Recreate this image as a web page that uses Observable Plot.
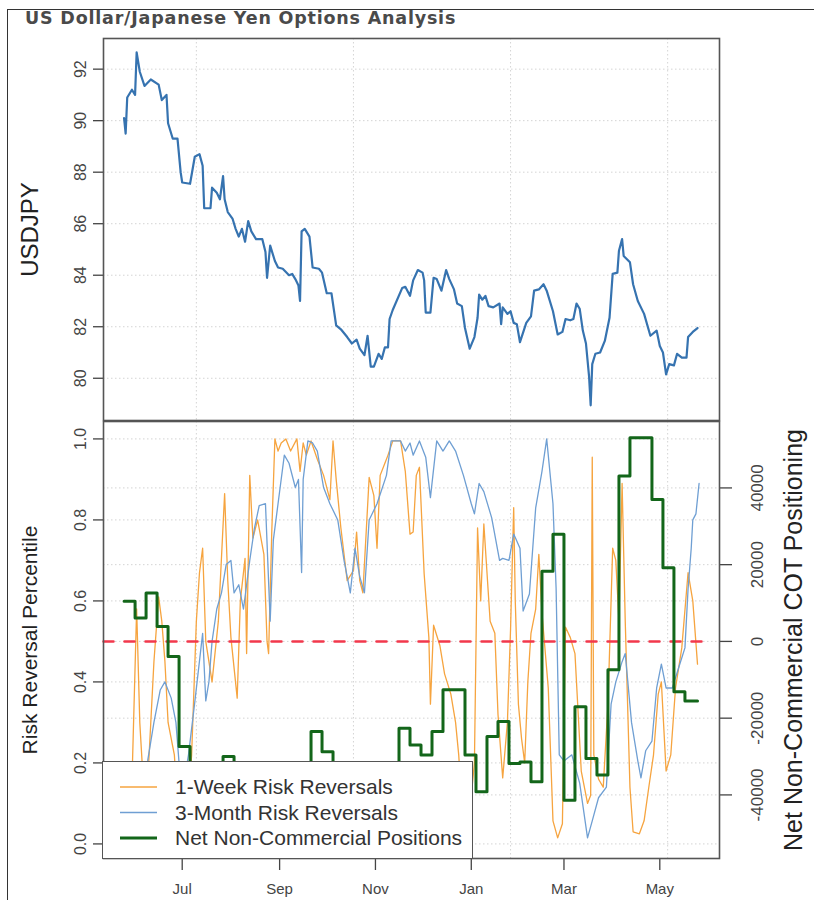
<!DOCTYPE html>
<html>
<head>
<meta charset="utf-8">
<script src="https://cdn.jsdelivr.net/npm/d3@7"></script>
<script src="https://cdn.jsdelivr.net/npm/@observablehq/plot@0.6"></script>
<style>
  html, body { margin: 0; padding: 0; background: #fff; }
  #wrap { position: relative; width: 814px; height: 900px; overflow: hidden; font-family: "Liberation Sans", Arial, sans-serif; }
  #border { position: absolute; left: 7px; top: 9px; width: 900px; height: 1000px; border-left: 1.6px solid #333; border-top: 1.6px solid #333; }
  #title { position: absolute; left: 25px; top: 10px; font: bold 17.5px/17px "DejaVu Sans", Verdana, sans-serif; letter-spacing: 0.8px; color: #4a4a4a; white-space: nowrap; }
  .panel { position: absolute; left: 0; }
  #legend { position: absolute; left: 102px; top: 761px; width: 371px; height: 98px; background: #fff; border: 1.5px solid #555; box-sizing: border-box; }
</style>
</head>
<body>
<div id="wrap">
  <div id="border"></div>
  <div id="title"></div>
  <div id="topPanel" class="panel" style="top:0px"></div>
  <div id="bottomPanel" class="panel" style="top:400px"></div>
  <div id="legend"></div>
</div>
<script>
// ---------------- DATA ----------------
const chartTitle = "US Dollar/Japanese Yen Options Analysis";
const baseDay = "2010-07-01"; // day offsets below are counted from this date

// USD/JPY spot (day offset, level)
const usdDays = [-37,-36,-35,-32,-30,-29,-27,-24,-20,-15,-13,-10,-9,-6,-3,-1,0,5,8,11,13,14,18,19,22,24,26,27,29,32,34,36,38,40,42,44,47,51,53,54,56,59,61,64,68,70,72,74,75,76,78,81,83,87,89,92,95,98,101,105,108,111,113,116,118,120,122,125,127,129,131,132,134,140,142,145,147,150,153,154,155,158,160,162,165,168,170,173,175,178,180,183,186,188,189,191,193,195,198,202,203,204,207,209,211,213,215,219,222,224,227,230,232,236,239,242,244,247,249,251,253,255,257,259,260,261,263,266,269,272,274,277,278,280,281,285,287,290,294,298,302,304,306,308,310,313,315,318,321,322,325,328];
const usdValues = [90.1,89.5,90.9,91.2,91.0,92.65,91.9,91.35,91.6,91.4,90.8,91.0,89.9,89.3,89.3,88.0,87.6,87.55,88.6,88.7,88.25,86.6,86.6,87.4,87.2,86.95,87.85,86.95,86.45,86.2,85.8,85.5,85.8,85.3,86.1,85.7,85.4,85.4,84.9,83.9,85.15,84.55,84.3,84.25,84.0,84.05,83.85,83.6,83.0,85.7,85.8,85.5,84.3,84.25,84.1,83.3,83.3,82.05,81.9,81.6,81.35,81.5,81.15,80.9,81.65,80.45,80.45,80.95,80.75,81.2,81.2,82.3,82.65,83.5,83.55,83.2,83.8,84.2,84.1,83.8,82.55,82.55,83.9,83.85,83.4,84.2,83.85,83.45,82.9,82.8,81.95,81.15,81.6,82.35,83.25,83.05,83.2,82.8,82.75,82.9,82.1,82.75,82.5,82.6,82.15,82.1,81.4,82.15,82.4,83.4,83.45,83.65,83.4,82.6,81.7,81.8,82.3,82.25,82.3,82.9,82.7,81.85,81.35,80.05,78.95,80.55,80.95,81.0,81.45,82.35,84.05,84.1,84.95,85.4,84.75,84.5,83.65,83.0,82.5,81.65,81.85,81.25,81.0,80.15,80.55,80.5,80.95,80.8,80.8,81.6,81.8,81.95];

// 1-week risk reversal percentile
const week1Days = [-36,-32,-29,-27,-24,-22,-18,-15,-13,-11,-9,-5,-3,0,3,6,9,11,13,15,19,23,27,29,31,35,37,40,41,43,45,48,52,54,55,57,59,61,63,66,69,73,75,77,79,82,86,90,94,96,98,101,105,109,111,113,115,119,122,124,126,129,131,134,139,142,145,147,149,151,154,157,158,160,164,167,171,174,176,178,181,184,186,188,190,192,196,199,201,204,207,209,211,212,214,216,218,220,222,225,227,229,233,236,239,242,244,247,250,254,258,260,261,262,265,268,271,274,276,278,280,282,285,287,291,294,297,300,303,305,308,311,314,318,322,325,328];
const week1Pct = [0.05,0.15,0.58,0.30,0.10,0.15,0.45,0.61,0.55,0.45,0.30,0.22,0.10,0.05,0.05,0.22,0.55,0.67,0.73,0.50,0.40,0.55,0.865,0.65,0.51,0.36,0.60,0.705,0.47,0.91,0.755,0.80,0.715,0.50,0.47,0.77,1.0,0.97,0.99,1.0,0.97,1.0,0.92,0.99,0.96,0.995,0.95,0.91,0.85,0.995,0.90,0.78,0.65,0.675,0.77,0.65,0.62,0.905,0.86,0.73,0.91,0.94,0.96,0.995,0.995,0.92,0.765,0.77,0.91,0.93,0.667,0.51,0.345,0.54,0.49,0.42,0.37,0.30,0.22,0.10,0.05,0.12,0.20,0.78,0.60,0.79,0.55,0.52,0.32,0.163,0.30,0.53,0.83,0.60,0.345,0.26,0.20,0.40,0.52,0.58,0.715,0.57,0.385,0.057,0.015,0.05,0.535,0.51,0.47,0.18,0.10,0.12,0.955,0.22,0.16,0.14,0.345,0.73,0.70,0.55,0.89,0.55,0.14,0.03,0.025,0.057,0.14,0.22,0.37,0.40,0.18,0.22,0.385,0.484,0.67,0.60,0.444];

// 3-month risk reversal percentile
const month3Days = [-36,-30,-25,-22,-18,-14,-11,-7,-4,-2,1,4,8,13,15,17,19,22,25,28,31,33,36,39,43,46,49,53,56,58,61,65,68,72,74,76,77,80,83,86,90,94,99,103,107,110,113,116,119,124,130,133,139,142,145,147,151,155,158,162,166,170,174,179,184,186,189,192,197,202,204,208,211,215,217,221,225,229,232,236,238,240,243,248,253,258,261,265,270,273,276,280,282,286,290,292,295,299,302,305,308,312,316,320,322,324,325,327,329];
const month3Pct = [0.05,0.10,0.16,0.205,0.30,0.38,0.40,0.36,0.30,0.20,0.15,0.22,0.35,0.52,0.353,0.40,0.50,0.58,0.62,0.69,0.70,0.62,0.64,0.58,0.70,0.78,0.835,0.84,0.55,0.75,0.84,0.96,0.94,0.88,0.90,0.67,0.90,0.995,0.99,0.97,0.88,0.84,0.80,0.70,0.62,0.73,0.66,0.62,0.80,0.84,0.91,0.995,0.995,0.97,0.99,0.96,0.995,0.955,0.855,0.995,0.97,0.995,0.97,0.91,0.84,0.815,0.89,0.87,0.805,0.70,0.705,0.70,0.765,0.73,0.575,0.617,0.83,0.92,1.0,0.84,0.63,0.22,0.205,0.22,0.15,0.015,0.057,0.114,0.14,0.345,0.40,0.45,0.47,0.30,0.205,0.163,0.23,0.254,0.385,0.444,0.385,0.385,0.435,0.484,0.63,0.73,0.80,0.815,0.89];

// Net non-commercial COT positions (weekly, step)
const cotDays = [-37,-30,-23,-16,-9,-2,5,12,19,26,33,40,47,54,61,68,75,82,89,96,103,110,117,124,131,138,145,152,159,166,173,180,187,194,201,208,215,222,229,236,243,250,257,264,271,278,285,292,299,306,313,320,328];
const cotValues = [10500,6100,12600,3900,-3900,-27400,-42000,-44000,-42000,-30000,-42000,-45000,-43000,-40000,-38000,-36000,-38000,-23500,-28750,-42000,-44000,-40000,-38000,-41000,-36000,-22660,-27000,-29600,-23500,-12600,-12600,-29600,-39200,-24800,-20900,-31800,-31400,-36600,18300,27900,-41400,-17000,-30500,-34800,-7400,43100,53100,53100,37000,19200,-13100,-15500,-15500];

// axes / ticks / labels
const xDomainDays = [-50.1, 342];
const monthTicks = ["2010-07-01","2010-09-01","2010-11-01","2011-01-01","2011-03-01","2011-05-01"];
const gridDates = ["2010-07-10","2010-10-18","2011-01-26","2011-05-06"];
const usdTicks = [80, 82, 84, 86, 88, 90, 92];
const usdDomain = [78.36, 93.19];
const pctTicks = [0.0, 0.2, 0.4, 0.6, 0.8, 1.0];
const pctDomain = [-0.036, 1.043];
const cotTicks = [-40000, -20000, 0, 20000, 40000];
const pctPer20000 = 0.1895;       // right-axis scale: 20000 contracts in percentile units
const refLevel = 0.5;
const refLineDays = [-50.1, 335];
const topYLabel = "USDJPY";
const bottomYLabel = "Risk Reversal Percentile";
const rightYLabel = "Net Non-Commercial COT Positioning";
const legendLabels = ["1-Week Risk Reversals", "3-Month Risk Reversals", "Net Non-Commercial Positions"];

// ---------------- STYLE ----------------
const cOrange = "#f6a43f", cBlue = "#6f9fd3", cGreen = "#13661a", cUsd = "#3673b0", cRed = "#f2384c";
const gridStyle = {stroke: "#d4d4d4", strokeOpacity: 1, strokeDasharray: "1.5,2.5", strokeWidth: 1};
const font = "'Liberation Sans', Arial, sans-serif";

// ---------------- BUILD ----------------
const base = Date.parse(baseDay + "T00:00:00Z");
const toDate = d => new Date(base + d * 864e5);
const cotToPct = v => refLevel + v / 20000 * pctPer20000;
const pctToCot = p => (p - refLevel) / pctPer20000 * 20000;

const usd = usdDays.map((d, i) => ({date: toDate(d), value: usdValues[i]}));
const week1 = week1Days.map((d, i) => ({date: toDate(d), value: week1Pct[i]}));
const month3 = month3Days.map((d, i) => ({date: toDate(d), value: month3Pct[i]}));
const cot = cotDays.map((d, i) => ({date: toDate(d), value: cotValues[i]}));
const refLine = refLineDays.map(d => ({date: toDate(d), value: refLevel}));
const xDomain = xDomainDays.map(toDate);
const gridX = gridDates.map(s => new Date(s + "T00:00:00Z"));
const monthX = monthTicks.map(s => new Date(s + "T00:00:00Z"));

document.getElementById("title").textContent = chartTitle;

const topPlot = Plot.plot({
  width: 814, height: 421,
  marginLeft: 103, marginRight: 95, marginTop: 38, marginBottom: 1,
  x: {type: "utc", domain: xDomain, axis: null},
  y: {domain: usdDomain},
  style: {fontFamily: font, color: "#444", background: "transparent", overflow: "visible"},
  marks: [
    Plot.gridY(usdTicks, gridStyle),
    Plot.gridX(gridX, gridStyle),
    Plot.axisY(usdTicks, {anchor: "left", tickSize: 10, tickPadding: 7.5, tickRotate: -90, fontSize: 16, strokeWidth: 1.3, label: null}),
    Plot.lineY(usd, {x: "date", y: "value", stroke: cUsd, strokeWidth: 2.2}),
    Plot.text([topYLabel], {text: d => d, frameAnchor: "left", textAnchor: "middle", dx: -73, rotate: -90, fontSize: 24, fill: "#222"}),
    Plot.frame({stroke: "#555", strokeWidth: 1.6})
  ]
});
document.getElementById("topPanel").appendChild(topPlot);

const bottomPlot = Plot.plot({
  width: 814, height: 500,
  marginLeft: 103, marginRight: 95, marginTop: 21, marginBottom: 42,
  x: {type: "utc", domain: xDomain},
  y: {domain: pctDomain},
  style: {fontFamily: font, color: "#444", background: "transparent", overflow: "visible"},
  marks: [
    Plot.gridY(pctTicks, gridStyle),
    Plot.gridY(cotTicks.map(cotToPct), gridStyle),
    Plot.gridX(gridX, gridStyle),
    Plot.axisY(pctTicks, {anchor: "left", tickSize: 10, tickPadding: 7.5, tickRotate: -90, fontSize: 16, strokeWidth: 1.3, tickFormat: d3.format(".1f"), label: null}),
    Plot.axisY(cotTicks.map(cotToPct), {anchor: "right", tickSize: 12, tickPadding: 19, tickRotate: -90, lineAnchor: "top", fontSize: 17, strokeWidth: 1.3, tickFormat: p => String(Math.round(pctToCot(p))), label: null}),
    Plot.axisX(monthX, {anchor: "bottom", tickSize: 12, tickPadding: 13, fontSize: 15, strokeWidth: 1.3, tickFormat: d3.utcFormat("%b"), label: null}),
    Plot.lineY(week1, {x: "date", y: "value", stroke: cOrange, strokeWidth: 1.3}),
    Plot.lineY(month3, {x: "date", y: "value", stroke: cBlue, strokeWidth: 1.3}),
    Plot.lineY(refLine, {x: "date", y: "value", stroke: cRed, strokeWidth: 2.5, strokeDasharray: "10,11"}),
    Plot.lineY(cot, {x: "date", y: d => cotToPct(d.value), curve: "step-after", stroke: cGreen, strokeWidth: 3}),
    Plot.text([bottomYLabel], {text: d => d, frameAnchor: "left", textAnchor: "middle", dx: -73, rotate: -90, fontSize: 21, fill: "#222"}),
    Plot.text([rightYLabel], {text: d => d, frameAnchor: "right", textAnchor: "middle", dx: 74, rotate: -90, fontSize: 25, fill: "#222"}),
    Plot.frame({stroke: "#555", strokeWidth: 1.6})
  ]
});
document.getElementById("bottomPanel").appendChild(bottomPlot);

// legend
const legendStyles = [
  {color: cOrange, width: 1.5},
  {color: cBlue, width: 1.5},
  {color: cGreen, width: 3}
];
const lsvg = d3.select("#legend").append("svg").attr("width", 368).attr("height", 95)
  .style("position", "absolute").style("left", "0px").style("top", "0px");
const rows = lsvg.selectAll("g").data(legendLabels).join("g")
  .attr("transform", (d, i) => `translate(0, ${25 + i * 25.5})`);
rows.append("line").attr("x1", 17).attr("x2", 54).attr("y1", 0).attr("y2", 0)
  .attr("stroke", (d, i) => legendStyles[i].color).attr("stroke-width", (d, i) => legendStyles[i].width);
rows.append("text").attr("x", 72).attr("y", 0).attr("dy", "0.35em")
  .attr("font-family", font).attr("font-size", 21).attr("fill", "#333").text(d => d);
</script>
</body>
</html>
